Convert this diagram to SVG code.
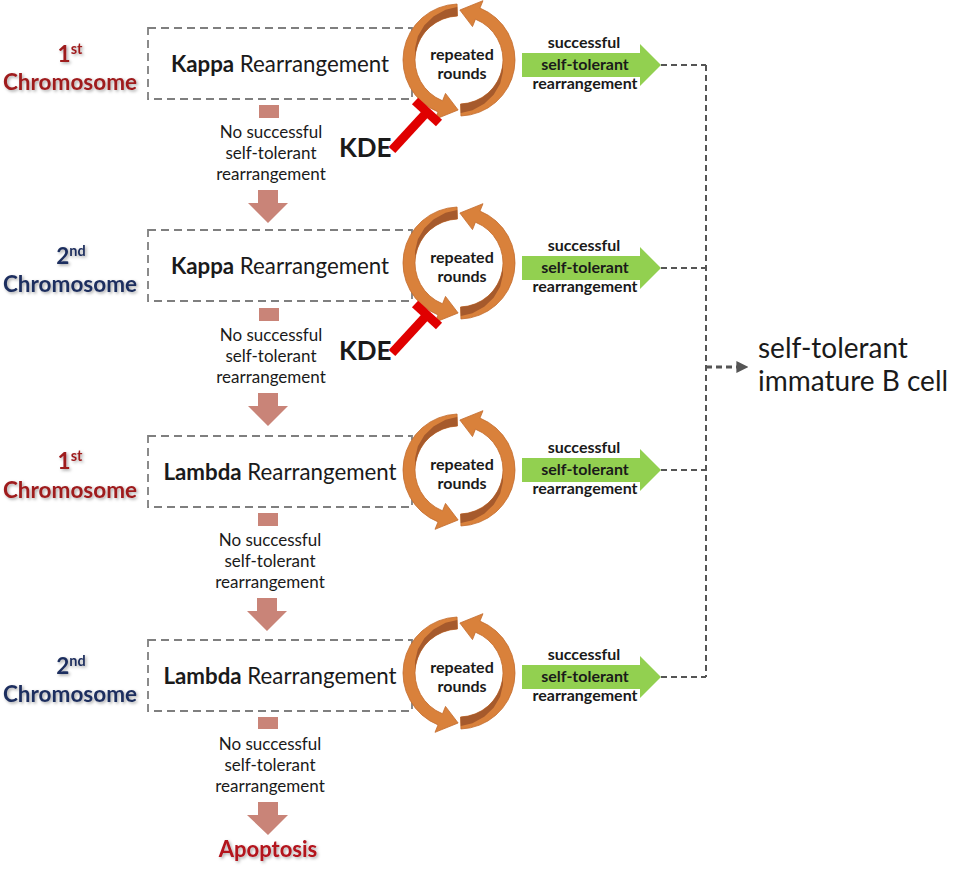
<svg xmlns="http://www.w3.org/2000/svg" width="957" height="869" viewBox="0 0 957 869">
<style>
  text { font-family: Lato, "Open Sans", "Liberation Sans", sans-serif; fill: #1a1a1a; }
  .box { fill: none; stroke: #7f7f7f; stroke-width: 1.8; stroke-dasharray: 8 5; }
  .chr { font-weight: 700; font-size: 22.5px; text-anchor: middle; }
  .red { fill: #9e1a1c; }
  .blue { fill: #1f2f5e; }
  .sup { font-size: 14.5px; }
  .rear { font-size: 22.3px; text-anchor: middle; }
  .b { font-weight: 700; }
  .no { font-size: 17px; text-anchor: middle; fill: #1a1a1a; }
  .down { fill: #c98478; }
  .rep { font-size: 16px; font-weight: 700; text-anchor: middle; }
  .succ { font-size: 16px; font-weight: 700; text-anchor: middle; }
  .green { fill: #92d050; }
  .kde { font-size: 26px; font-weight: 700; }
  .inh { stroke: #e00000; stroke-width: 9; fill: none; }
  .conn { fill: none; stroke: #555; stroke-width: 2; stroke-dasharray: 6 4; }
  .ring { fill: #d9813b; stroke: #c36b2c; stroke-width: 0.8; }
  .inner { fill: #a65a2c; }
</style>
<defs>
  <filter id="sh" x="-10%" y="-30%" width="130%" height="170%">
    <feDropShadow dx="1.5" dy="1.5" stdDeviation="1.5" flood-color="#000" flood-opacity="0.35"/>
  </filter>
  <marker id="ah" viewBox="0 0 10 10" refX="8" refY="5" markerWidth="4" markerHeight="4" orient="auto" markerUnits="strokeWidth">
    <path d="M0,0 L10,5 L0,10 Z" fill="#555"/>
  </marker>
  <g id="cyc">
    <path class="ring" d="M-1.95,-55.97 A56,56 0 0 0 -20.98,51.92 L-23.97,59.34 L-0.87,49.99 L-13.49,33.38 L-16.48,40.8 A44,44 0 0 1 -1.54,-43.97 Z"/>
    <path class="inner" d="M-1.85,-52.97 L-13.46,-50.23 L-25.25,-43.73 L-34.65,-34.65 L-41.14,-23.75 L-43.95,-11.78 L-43.83,-3.84 A44,44 0 0 1 -1.54,-43.97 Z"/>
    <path class="ring" d="M1.95,55.97 A56,56 0 0 0 20.98,-51.92 L23.97,-59.34 L0.87,-49.99 L13.49,-33.38 L16.48,-40.8 A44,44 0 0 1 1.54,43.97 Z"/>
    <path class="inner" d="M1.85,52.97 L13.46,50.23 L25.25,43.73 L34.65,34.65 L41.14,23.75 L43.95,11.78 L43.83,3.84 A44,44 0 0 1 1.54,43.97 Z"/>
  </g>
  <path id="garrow" d="M522,-12 L640,-12 L640,-21 L661,0 L640,21 L640,12 L522,12 Z"/>
</defs>
<rect width="957" height="869" fill="#fff"/>

<!-- connectors -->
<g id="connectors">
  <path class="conn" d="M661,65 H706 M661,268 H706 M661,470 H706 M661,677 H706 M706,65 V677"/>
  <path d="M706,367 H746" fill="none" stroke="#555" stroke-width="3" stroke-dasharray="6 4" marker-end="url(#ah)"/>
</g>

<!-- Row 1 -->
<g id="row1">
  <g id="chrom1" filter="url(#sh)">
    <text class="chr red" x="70" y="62">1<tspan class="sup" dy="-8">st</tspan></text>
    <text class="chr red" x="70" y="90">Chromosome</text>
  </g>
  <g id="kappa1">
    <rect class="box" x="148" y="28" width="264" height="71"/>
    <text class="rear" x="280" y="72"><tspan class="b">Kappa</tspan> Rearrangement</text>
  </g>
  <g id="cycle1">
    <use href="#cyc" transform="translate(459,60)"/>
    <text class="rep" x="462" y="60">repeated</text>
    <text class="rep" x="462" y="79">rounds</text>
  </g>
  <g id="success1">
    <use href="#garrow" class="green" transform="translate(0,65)"/>
    <text class="succ" x="584" y="48">successful</text>
    <text class="succ" x="585" y="70">self-tolerant</text>
    <text class="succ" x="585" y="89">rearrangement</text>
  </g>
  <g id="fail1">
    <rect class="down" x="259" y="105" width="20" height="13"/>
    <text class="no" x="271" y="138">No successful</text>
    <text class="no" x="271" y="159">self-tolerant</text>
    <text class="no" x="271" y="180">rearrangement</text>
    <path class="down" d="M258,190 H278 V203 H288 L268,223 L248,203 H258 Z"/>
  </g>
  <g id="kde1">
    <text class="kde" x="339" y="157">KDE</text>
    <path class="inh" d="M392,150 L427,112"/>
    <path class="inh" stroke-width="8" d="M415,101 L439,123"/>
  </g>
</g>

<!-- Row 2 -->
<g id="row2">
  <g id="chrom2" filter="url(#sh)">
    <text class="chr blue" x="71" y="264">2<tspan class="sup" dy="-8">nd</tspan></text>
    <text class="chr blue" x="70" y="292">Chromosome</text>
  </g>
  <g id="kappa2">
    <rect class="box" x="148" y="230" width="264" height="71"/>
    <text class="rear" x="280" y="274"><tspan class="b">Kappa</tspan> Rearrangement</text>
  </g>
  <g id="cycle2">
    <use href="#cyc" transform="translate(459,263)"/>
    <text class="rep" x="462" y="263">repeated</text>
    <text class="rep" x="462" y="282">rounds</text>
  </g>
  <g id="success2">
    <use href="#garrow" class="green" transform="translate(0,268)"/>
    <text class="succ" x="584" y="251">successful</text>
    <text class="succ" x="585" y="273">self-tolerant</text>
    <text class="succ" x="585" y="292">rearrangement</text>
  </g>
  <g id="fail2">
    <rect class="down" x="259" y="308" width="20" height="13"/>
    <text class="no" x="271" y="341">No successful</text>
    <text class="no" x="271" y="362">self-tolerant</text>
    <text class="no" x="271" y="383">rearrangement</text>
    <path class="down" d="M258,393 H278 V406 H288 L268,426 L248,406 H258 Z"/>
  </g>
  <g id="kde2">
    <text class="kde" x="339" y="360">KDE</text>
    <path class="inh" d="M392,353 L427,315"/>
    <path class="inh" stroke-width="8" d="M415,304 L439,326"/>
  </g>
</g>

<!-- Row 3 -->
<g id="row3">
  <g id="chrom3" filter="url(#sh)">
    <text class="chr red" x="70" y="469">1<tspan class="sup" dy="-8">st</tspan></text>
    <text class="chr red" x="70" y="498">Chromosome</text>
  </g>
  <g id="lambda1">
    <rect class="box" x="148" y="436" width="264" height="71"/>
    <text class="rear" x="280" y="480"><tspan class="b">Lambda</tspan> Rearrangement</text>
  </g>
  <g id="cycle3">
    <use href="#cyc" transform="translate(459,470)"/>
    <text class="rep" x="462" y="470">repeated</text>
    <text class="rep" x="462" y="489">rounds</text>
  </g>
  <g id="success3">
    <use href="#garrow" class="green" transform="translate(0,470)"/>
    <text class="succ" x="584" y="453">successful</text>
    <text class="succ" x="585" y="475">self-tolerant</text>
    <text class="succ" x="585" y="494">rearrangement</text>
  </g>
  <g id="fail3">
    <rect class="down" x="258" y="513" width="20" height="13"/>
    <text class="no" x="270" y="546">No successful</text>
    <text class="no" x="270" y="567">self-tolerant</text>
    <text class="no" x="270" y="588">rearrangement</text>
    <path class="down" d="M257,598 H277 V611 H287 L267,631 L247,611 H257 Z"/>
  </g>
</g>

<!-- Row 4 -->
<g id="row4">
  <g id="chrom4" filter="url(#sh)">
    <text class="chr blue" x="71" y="674">2<tspan class="sup" dy="-8">nd</tspan></text>
    <text class="chr blue" x="70" y="702">Chromosome</text>
  </g>
  <g id="lambda2">
    <rect class="box" x="148" y="640" width="264" height="71"/>
    <text class="rear" x="280" y="684"><tspan class="b">Lambda</tspan> Rearrangement</text>
  </g>
  <g id="cycle4">
    <use href="#cyc" transform="translate(459,673)"/>
    <text class="rep" x="462" y="673">repeated</text>
    <text class="rep" x="462" y="692">rounds</text>
  </g>
  <g id="success4">
    <use href="#garrow" class="green" transform="translate(0,677)"/>
    <text class="succ" x="584" y="660">successful</text>
    <text class="succ" x="585" y="682">self-tolerant</text>
    <text class="succ" x="585" y="701">rearrangement</text>
  </g>
  <g id="fail4">
    <rect class="down" x="258" y="717" width="20" height="12"/>
    <text class="no" x="270" y="750">No successful</text>
    <text class="no" x="270" y="771">self-tolerant</text>
    <text class="no" x="270" y="792">rearrangement</text>
    <path class="down" d="M258,802 H278 V815 H288 L268,835 L247,815 H258 Z"/>
  </g>
</g>

<g id="apoptosis" filter="url(#sh)">
  <text x="268" y="857" font-size="22" font-weight="700" text-anchor="middle" style="fill:#b3121c">Apoptosis</text>
</g>

<g id="result">
  <text x="758" y="358" font-size="28">self-tolerant</text>
  <text x="758" y="391" font-size="28">immature B cell</text>
</g>
</svg>
